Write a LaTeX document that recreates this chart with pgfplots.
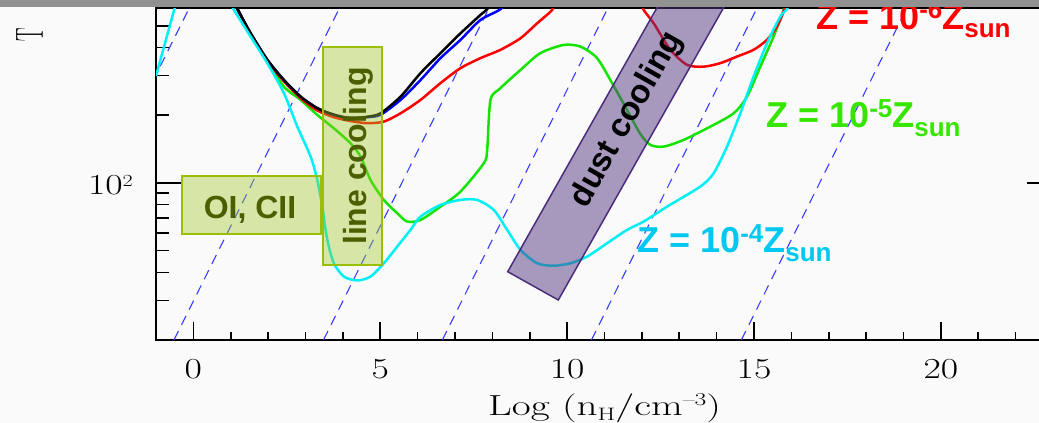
\documentclass[border=0pt]{standalone}
\usepackage{fontspec}
\usepackage{graphicx}
\usepackage{pgfplots}
\pgfplotsset{compat=1.18}
\newfontfamily\arial{Liberation Sans}
\definecolor{bg}{RGB}{250,250,250}
\definecolor{cblue}{RGB}{0,0,255}
\definecolor{cred}{RGB}{255,0,0}
\definecolor{cgreen}{RGB}{20,228,0}
\definecolor{ccyan}{RGB}{0,240,245}
\definecolor{dashblue}{RGB}{60,60,255}
\definecolor{boxfill}{RGB}{160,200,40}
\definecolor{boxedge}{RGB}{155,190,10}
\definecolor{boxtext}{RGB}{75,95,0}
\definecolor{purp}{RGB}{85,55,129}
\definecolor{purpedge}{RGB}{75,45,125}
\definecolor{lblred}{RGB}{255,0,0}
\definecolor{lblgreen}{RGB}{55,230,0}
\definecolor{lblcyan}{RGB}{0,200,240}
\definecolor{barg}{RGB}{145,145,145}
\newcommand\sx[1]{\scalebox{1.3}[1]{#1}}
\newcommand\zlab[1]{\arial\bfseries\fontsize{36}{40}\selectfont Z = 10\raisebox{10pt}{\fontsize{26}{28}\selectfont -#1}Z\raisebox{-9pt}{\fontsize{26}{28}\selectfont sun}}
\begin{document}
\begin{tikzpicture}
\fill[bg] (0pt,0pt) rectangle (1039pt,-423pt);
\useasboundingbox (0pt,0pt) rectangle (1039pt,-423pt);
\begin{axis}[
  scale only axis, width=897pt, height=332pt,
  at={(156pt,-340pt)}, anchor=south west,
  xmin=-1, xmax=23, ymode=log, ymin=20, ymax=600,
  axis line style={line width=2pt, black},
  xtick={0,5,10,15,20},
  xticklabels={\sx{0},\sx{5},\sx{10},\sx{15},\sx{20}},
  minor xtick={-1,1,2,3,4,6,7,8,9,11,12,13,14,16,17,18,19,21,22,23},
  ytick={100},
  yticklabels={\sx{10}\raisebox{8pt}{\fontsize{17}{17}\selectfont\sx{2}}},
  minor ytick={20,30,40,50,60,70,80,90,200,300,400,500},
  xtick pos=left, ytick pos=both, tick align=inside,
  xtick style={line width=1.6pt, black, /pgfplots/major tick length=18pt, /pgfplots/minor tick length=8pt},
  ytick style={line width=1.6pt, black, /pgfplots/major tick length=26pt, /pgfplots/minor tick length=13pt},
  xticklabel style={font=\fontsize{29}{30}\selectfont, anchor=base, inner sep=0pt, yshift=-38pt},
  yticklabel style={font=\fontsize{29}{30}\selectfont, anchor=base east, inner sep=0pt, xshift=-23pt, yshift=-12pt},
  xlabel={\scalebox{1.42}[1]{Log (n\raisebox{-5pt}{\fontsize{18}{18}\selectfont H}/cm\raisebox{10pt}{\fontsize{18}{18}\selectfont –3})}},
  xlabel style={font=\fontsize{29}{30}\selectfont, anchor=base, at={(axis description cs:0.5,0)}, yshift=-75pt, inner sep=0pt},
  clip=true,
]
% constant Jeans-mass dashed lines
\foreach \xa/\xb in {-4.54/-0.109, -0.52/3.911, 3.48/7.911, 6.66/11.091, 10.65/15.081, 14.66/19.091}{
  \edef\tmp{\noexpand\addplot[dashblue, line width=1.1pt, dash pattern=on 10pt off 7pt] coordinates {(\xa,20) (\xb,600)};}
  \tmp
}
% green
\addplot[cgreen, line width=2.5pt, smooth, tension=0.45] coordinates {
(1.00,690) (1.193,588) (1.532,463) (1.979,349) (2.422,268) (2.869,234) (3.316,200.6) (3.759,175) (4.206,150) (4.473,131) (4.741,103) (5.096,84) (5.455,73.3) (5.722,67.3) (6.078,68.4) (6.612,78.4) (7.147,91.5) (7.770,122.3) (7.861,140.3) (7.949,234) (8.217,264) (8.751,318) (9.286,378) (9.909,411) (10.356,404) (10.802,359) (11.246,270) (11.604,211) (11.960,165) (12.227,147.6) (12.583,145) (13.118,155.4) (13.832,178) (14.455,204) (14.813,242) (15.168,329) (15.524,448) (15.791,588) (15.9,680)};
% red
\addplot[cred, line width=2.5pt, smooth, tension=0.45] coordinates {
(1.00,690) (1.193,588) (1.532,460) (1.979,349) (2.422,283) (2.869,238) (3.316,210) (3.759,196) (4.206,188.5) (4.652,184.4) (5.096,187.4) (5.543,204) (6.078,234) (6.612,278) (7.147,324) (7.682,359) (8.217,391) (8.751,440) (9.198,513) (9.599,588) (9.75,660) (10.8,800) (11.9,660) (12.048,588) (12.316,513) (12.762,391) (13.209,335) (13.652,329) (14.099,341) (14.545,365) (14.989,391) (15.348,433) (15.615,496) (15.791,578) (15.9,660)};
% blue
\addplot[cblue, line width=2.5pt, smooth, tension=0.45] coordinates {
(1.00,690) (1.193,588) (1.532,463) (1.979,353) (2.422,287) (2.869,242) (3.316,215) (3.759,201) (4.206,194) (4.652,196) (5.008,201) (5.543,234) (6.078,287) (6.612,359) (7.147,433) (7.682,531) (8.217,593) (8.5,680)};
% black
\addplot[black, line width=2.5pt, smooth, tension=0.45] coordinates {
(1.00,690) (1.193,588) (1.532,463) (1.979,353) (2.422,287) (2.869,242) (3.316,215) (3.759,201) (4.206,194) (4.652,197) (5.008,204) (5.543,242) (6.078,308) (6.612,378) (7.147,463) (7.682,559) (7.861,593) (8.1,680)};
% cyan
\addplot[ccyan, line width=2.5pt] coordinates {(-1,299) (-0.5,600) (-0.4,680)};
\addplot[ccyan, line width=2.5pt, smooth, tension=0.45] coordinates {
(0.95,650) (1.086,588) (1.532,448) (1.979,341) (2.422,251) (2.781,178) (3.136,131) (3.316,103) (3.449,78.4) (3.583,55.8) (3.759,43.9) (4.027,38.3) (4.385,36.8) (4.741,38.3) (5.096,43.9) (5.455,52.1) (5.810,61.8) (6.078,70.8) (6.612,79.8) (7.147,84.0) (7.594,84.0) (8.037,75.8) (8.396,61.8) (8.751,50.4) (9.198,43.9) (9.642,42.8) (10.088,43.9) (10.535,47.0) (11.070,53.9) (11.604,61.8) (12.048,67.3) (12.674,78.4) (13.564,96.3) (13.920,110.4) (14.278,145) (14.634,204) (14.989,297) (15.348,418) (15.703,549) (15.882,593) (16.0,660)};
\end{axis}
% y label
\node[rotate=90, inner sep=0pt] at (29.5pt,-35pt) {\fontsize{29}{30}\selectfont\scalebox{0.7}[1.35]{T}};
% OI, CII box
\filldraw[fill=boxfill, fill opacity=0.4, draw=boxedge, line width=2pt] (182.3pt,-175.7pt) rectangle (321pt,-234pt);
\node[anchor=base, inner sep=0pt, text=boxtext] at (250pt,-218.3pt) {\arial\bfseries\fontsize{32}{36}\selectfont OI, CII};
% line cooling box
\filldraw[fill=boxfill, fill opacity=0.4, draw=boxedge, line width=2pt] (323.3pt,-46.7pt) rectangle (382.3pt,-265.3pt);
\node[rotate=90, anchor=base west, inner sep=0pt, text=boxtext] at (366.7pt,-245pt) {\arial\bfseries\fontsize{32}{36}\selectfont line cooling};
% dust cooling box
\filldraw[fill=purp, fill opacity=0.5, draw=purpedge, line width=1.5pt] (507.7pt,-271.7pt) -- (558.3pt,-300pt) -- (735.4pt,13.2pt) -- (684.8pt,41.5pt) -- cycle;
\node[rotate=60.5, inner sep=0pt] at (627pt,-119.7pt) {\arial\bfseries\fontsize{33}{36}\selectfont dust cooling};
% metallicity labels
\node[anchor=base west, inner sep=0pt, text=lblred] at (816pt,-29pt) {\zlab{6}};
\node[anchor=base west, inner sep=0pt, text=lblgreen] at (766pt,-127pt) {\zlab{5}};
\node[anchor=base west, inner sep=0pt, text=lblcyan] at (637pt,-252pt) {\zlab{4}};
% top bar
\fill[barg] (0pt,0pt) rectangle (1039pt,-7.2pt);
\end{tikzpicture}
\end{document}
